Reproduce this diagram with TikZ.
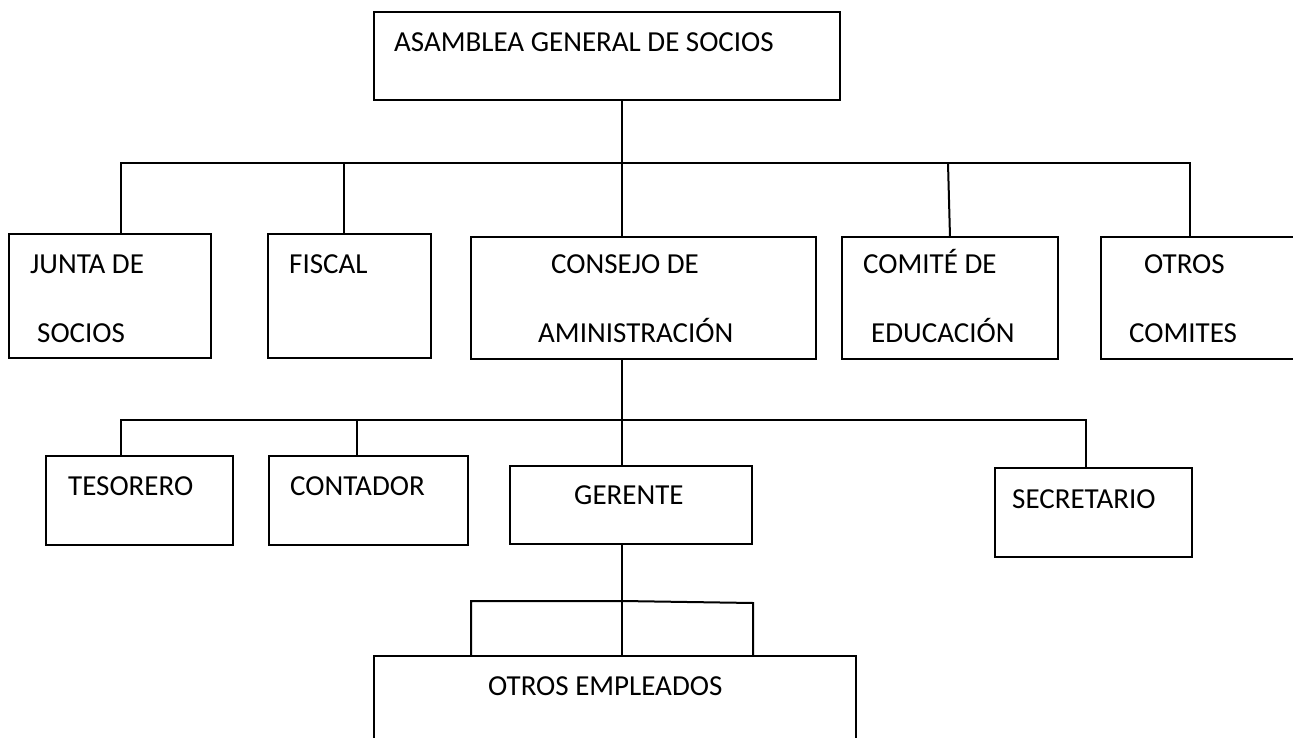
\documentclass[tikz,border=0pt]{standalone}
\usepackage{fontspec}
\setmainfont{Carlito}
\begin{document}
\begin{tikzpicture}[x=1pt,y=1pt,
  caja/.style={draw, line width=2pt, rectangle, inner sep=0pt, outer sep=0pt, anchor=north west},
  texto/.style={inner sep=0pt, anchor=base west, font=\fontsize{29}{35}\selectfont},
  linea/.style={line width=2pt}]
\useasboundingbox (0,0) rectangle (1293,-738);
% asamblea
\node[caja, minimum width=466, minimum height=88] (asamblea) at (374,-12) {};
\node[texto] (asamblea-t) at (394,-52) {ASAMBLEA GENERAL DE SOCIOS};
% primer nivel
\node[caja, minimum width=202, minimum height=124] (junta) at (9,-234) {};
\node[texto] (junta-t1) at (30,-273) {JUNTA DE};
\node[texto] (junta-t2) at (37,-342) {SOCIOS};
\node[caja, minimum width=163, minimum height=124] (fiscal) at (268,-234) {};
\node[texto] (fiscal-t) at (289,-273) {FISCAL};
\node[caja, minimum width=345, minimum height=122] (consejo) at (471,-237) {};
\node[texto] (consejo-t1) at (551,-273) {CONSEJO DE};
\node[texto] (consejo-t2) at (538,-342) {AMINISTRACIÓN};
\node[caja, minimum width=216, minimum height=122] (comite) at (842,-237) {};
\node[texto] (comite-t1) at (863,-273) {COMITÉ DE};
\node[texto] (comite-t2) at (871,-342) {EDUCACIÓN};
\node[caja, minimum width=220, minimum height=122] (otroscom) at (1101,-237) {};
\node[texto] (otroscom-t1) at (1144,-273) {OTROS};
\node[texto] (otroscom-t2) at (1129,-342) {COMITES};
% lineas primer nivel
\coordinate (b1) at (622,-163);
\coordinate (bJunta) at (121,-163);
\coordinate (bFiscal) at (344,-163);
\coordinate (bComite) at (948,-163);
\coordinate (bOtros) at (1190,-163);
\draw[linea] (b1 |- asamblea.south) -- (b1);
\draw[linea] (bJunta |- junta.north) -- (bJunta) -- (bOtros) -- (bOtros |- otroscom.north);
\draw[linea] (bFiscal) -- (bFiscal |- fiscal.north);
\draw[linea] (b1) -- (b1 |- consejo.north);
\draw[linea] (bComite) -- ([xshift=2pt]bComite |- comite.north);
% segundo nivel
\node[caja, minimum width=187, minimum height=89] (tesorero) at (46,-456) {};
\node[texto] (tesorero-t) at (68,-495) {TESORERO};
\node[caja, minimum width=199, minimum height=89] (contador) at (269,-456) {};
\node[texto] (contador-t) at (290,-495) {CONTADOR};
\node[caja, minimum width=242, minimum height=78] (gerente) at (510,-466) {};
\node[texto] (gerente-t) at (574,-504) {GERENTE};
\node[caja, minimum width=197, minimum height=89] (secretario) at (995,-468) {};
\node[texto] (secretario-t) at (1012,-508) {SECRETARIO};
% lineas segundo nivel
\coordinate (b2) at (622,-420);
\coordinate (bTes) at (121,-420);
\coordinate (bCont) at (357,-420);
\coordinate (bSec) at (1086,-420);
\draw[linea] (b2 |- consejo.south) -- (b2 |- gerente.north);
\draw[linea] (bTes |- tesorero.north) -- (bTes) -- (bSec) -- (bSec |- secretario.north);
\draw[linea] (bCont) -- (bCont |- contador.north);
% otros empleados
\node[caja, minimum width=482, minimum height=120] (empleados) at (374,-656) {};
\node[texto] (empleados-t) at (488,-695) {OTROS EMPLEADOS};
\coordinate (b3) at (622,-601);
\coordinate (bIzq) at (471,-601);
\coordinate (bDer) at (753,-603);
\draw[linea] (b3 |- gerente.south) -- (b3 |- empleados.north);
\draw[linea] (bIzq |- empleados.north) -- (bIzq) -- (b3) -- (bDer) -- (bDer |- empleados.north);
\end{tikzpicture}
\end{document}
